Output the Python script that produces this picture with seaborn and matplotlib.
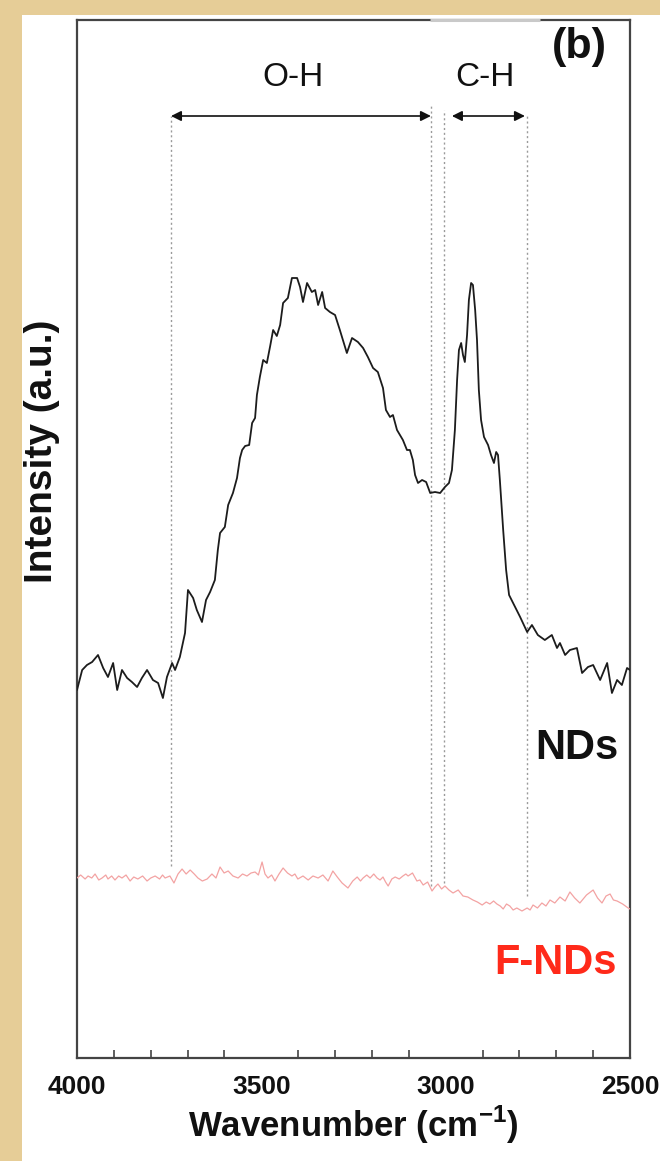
import matplotlib
matplotlib.use("Agg")
import matplotlib.pyplot as plt
from matplotlib import font_manager
from matplotlib.patches import Rectangle
from matplotlib.ticker import MultipleLocator
import pandas as pd
import seaborn as sns

# ---- spectra (wavenumber in cm^-1, intensity in arbitrary units) ----
nds_wavenumber = [
    4000, 3986, 3973, 3959, 3943, 3929, 3916, 3902, 3891, 3878, 3864, 3851, 3837,
    3824, 3810, 3794, 3780, 3767, 3756, 3742, 3734, 3721, 3707, 3699, 3685, 3675,
    3661, 3650, 3639, 3626, 3618, 3612, 3599, 3590, 3577, 3566, 3558, 3552, 3544,
    3533, 3525, 3517, 3512, 3504, 3495, 3485, 3476, 3468, 3458, 3449, 3441, 3428,
    3417, 3403, 3395, 3387, 3376, 3363, 3354, 3346, 3335, 3327, 3314, 3300, 3287,
    3268, 3254, 3238, 3224, 3211, 3197, 3184, 3170, 3162, 3151, 3143, 3132, 3116,
    3105, 3097, 3089, 3083, 3075, 3064, 3053, 3042, 3029, 3015, 3002, 2991, 2983,
    2975, 2969, 2964, 2958, 2953, 2948, 2942, 2937, 2931, 2926, 2920, 2915, 2910,
    2904, 2896, 2885, 2877, 2869, 2863, 2858, 2853, 2844, 2836, 2828, 2817, 2798,
    2779, 2766, 2750, 2731, 2712, 2698, 2690, 2676, 2663, 2644, 2630, 2614, 2600,
    2581, 2562, 2549, 2535, 2522, 2508, 2500,
]
nds_intensity = [
    3.68, 3.88, 3.93, 3.96, 4.03, 3.90, 3.81, 3.95, 3.68, 3.88, 3.80, 3.76, 3.71,
    3.80, 3.88, 3.78, 3.75, 3.60, 3.81, 3.95, 3.88, 4.01, 4.25, 4.68, 4.60, 4.48,
    4.36, 4.58, 4.66, 4.78, 5.08, 5.25, 5.31, 5.53, 5.65, 5.80, 6.00, 6.08, 6.12,
    6.13, 6.35, 6.40, 6.63, 6.81, 6.98, 6.95, 7.12, 7.28, 7.22, 7.33, 7.55, 7.60,
    7.80, 7.80, 7.71, 7.56, 7.75, 7.66, 7.68, 7.53, 7.66, 7.50, 7.46, 7.43, 7.28,
    7.05, 7.20, 7.16, 7.10, 7.01, 6.90, 6.86, 6.70, 6.48, 6.41, 6.43, 6.28, 6.18,
    6.08, 6.08, 5.98, 5.83, 5.75, 5.78, 5.76, 5.65, 5.66, 5.65, 5.71, 5.75, 5.88,
    6.28, 6.78, 7.08, 7.15, 7.03, 6.96, 7.23, 7.58, 7.75, 7.73, 7.48, 7.18, 6.68,
    6.38, 6.21, 6.13, 6.03, 5.95, 6.06, 6.03, 5.78, 5.28, 4.88, 4.63, 4.55, 4.41,
    4.26, 4.33, 4.23, 4.18, 4.23, 4.10, 4.15, 4.03, 4.08, 4.10, 3.85, 3.91, 3.93,
    3.78, 3.95, 3.65, 3.78, 3.73, 3.90, 3.88,
]

fnds_wavenumber = [
    4000, 3990, 3978, 3970, 3960, 3951, 3941, 3932, 3922, 3916, 3906, 3897, 3887,
    3878, 3867, 3856, 3846, 3835, 3822, 3810, 3800, 3788, 3776, 3768, 3761, 3748,
    3737, 3726, 3715, 3704, 3693, 3682, 3672, 3660, 3647, 3634, 3623, 3612, 3601,
    3590, 3577, 3563, 3551, 3539, 3528, 3517, 3508, 3498, 3490, 3482, 3472, 3463,
    3452, 3441, 3429, 3417, 3409, 3401, 3387, 3373, 3360, 3346, 3333, 3319, 3306,
    3294, 3281, 3265, 3252, 3240, 3231, 3224, 3214, 3205, 3195, 3186, 3178, 3170,
    3163, 3156, 3146, 3137, 3126, 3116, 3108, 3102, 3090, 3078, 3070, 3061, 3049,
    3037, 3029, 3021, 3011, 3002, 2991, 2980, 2966, 2953, 2940, 2926, 2914, 2901,
    2890, 2880, 2870, 2861, 2852, 2844, 2835, 2826, 2817, 2807, 2793, 2779, 2771,
    2763, 2751, 2739, 2728, 2717, 2704, 2690, 2676, 2663, 2650, 2636, 2618, 2600,
    2588, 2576, 2565, 2554, 2545, 2535, 2520, 2505, 2500,
]
fnds_intensity = [
    1.80, 1.83, 1.79, 1.82, 1.80, 1.84, 1.78, 1.80, 1.83, 1.79, 1.82, 1.78, 1.82,
    1.80, 1.83, 1.77, 1.81, 1.79, 1.82, 1.77, 1.80, 1.82, 1.79, 1.83, 1.80, 1.82,
    1.75, 1.84, 1.89, 1.84, 1.88, 1.84, 1.80, 1.77, 1.79, 1.84, 1.80, 1.91, 1.85,
    1.87, 1.82, 1.80, 1.84, 1.82, 1.85, 1.86, 1.83, 1.96, 1.84, 1.80, 1.83, 1.77,
    1.84, 1.90, 1.85, 1.82, 1.84, 1.79, 1.82, 1.78, 1.82, 1.80, 1.83, 1.77, 1.87,
    1.81, 1.75, 1.70, 1.77, 1.81, 1.77, 1.80, 1.83, 1.80, 1.84, 1.80, 1.78, 1.81,
    1.76, 1.72, 1.79, 1.81, 1.79, 1.82, 1.84, 1.82, 1.85, 1.77, 1.78, 1.73, 1.76,
    1.67, 1.71, 1.74, 1.69, 1.72, 1.68, 1.65, 1.68, 1.62, 1.61, 1.58, 1.56, 1.53,
    1.56, 1.54, 1.57, 1.54, 1.52, 1.49, 1.54, 1.52, 1.48, 1.50, 1.47, 1.50, 1.48,
    1.53, 1.50, 1.55, 1.52, 1.58, 1.55, 1.61, 1.57, 1.66, 1.60, 1.55, 1.63, 1.68,
    1.60, 1.55, 1.62, 1.64, 1.58, 1.57, 1.54, 1.50, 1.49,
]

# band limits marked by dotted guides: (position, lower end, upper end)
guide_positions = [3745, 3040, 3005, 2780]
guide_bottoms = [1.92, 1.72, 1.75, 1.62]
guide_tops = [9.42, 9.53, 9.48, 9.42]

band_labels = ["O-H", "C-H"]
band_starts = [3745, 2983]
band_ends = [3040, 2785]
band_label_x = [3414, 2893]

xticks_major = [4000, 3500, 3000, 2500]

# ---- style ----
sns.set_theme(style="white")
names = {f.name for f in font_manager.fontManager.ttflist}
if "Liberation Sans Narrow" in names:
    family, k = "Liberation Sans Narrow", 1.18
else:
    family, k = "Liberation Sans", 1.0
plt.rcParams["font.family"] = [family, "DejaVu Sans"]
plt.rcParams["mathtext.fontset"] = "custom"
plt.rcParams["mathtext.rm"] = family
plt.rcParams["mathtext.bf"] = f"{family}:bold"

fig = plt.figure(figsize=(6.6, 11.61), dpi=100, facecolor="white")

# parchment strips framing the panel
fig.patches.append(Rectangle((0, 0), 22 / 660, 1, transform=fig.transFigure,
                             facecolor="#e6cd97", edgecolor="none", zorder=0))
fig.patches.append(Rectangle((0, 1 - 15 / 1161), 1, 15 / 1161, transform=fig.transFigure,
                             facecolor="#e6cd97", edgecolor="none", zorder=0))

ax = fig.add_axes([77 / 660, (1161 - 1058) / 1161, 553 / 660, 1038 / 1161])
ax.set_facecolor("white")

df_nds = pd.DataFrame({"wavenumber": nds_wavenumber, "intensity": nds_intensity})
df_fnds = pd.DataFrame({"wavenumber": fnds_wavenumber, "intensity": fnds_intensity})

sns.lineplot(data=df_fnds, x="wavenumber", y="intensity", ax=ax,
             color="#f3a3a3", lw=0.9, estimator=None, zorder=3)
sns.lineplot(data=df_nds, x="wavenumber", y="intensity", ax=ax,
             color="#1c1c1c", lw=1.3, estimator=None, zorder=4)

# dotted band guides
for xg, y0, y1 in zip(guide_positions, guide_bottoms, guide_tops):
    ax.plot([xg, xg], [y0, y1], ls=(0, (1.5, 2.0)), color="#9a9a9a", lw=1.0, zorder=2)

# double-headed band arrows with labels
arrow_y = 9.42
for lab, xs, xe, xl in zip(band_labels, band_starts, band_ends, band_label_x):
    ax.annotate("", xy=(xe, arrow_y), xytext=(xs, arrow_y),
                arrowprops=dict(arrowstyle="<|-|>", color="#111111", lw=1.2,
                                mutation_scale=15, shrinkA=0, shrinkB=0))
    ax.text(xl, 9.81, lab, ha="center", va="center", fontsize=24 * k, color="#111111")

ax.text(2638, 10.11, "(b)", ha="center", va="center", fontsize=31 * k,
        fontweight="bold", color="#111111")
ax.text(2644, 3.10, "NDs", ha="center", va="center", fontsize=30 * k,
        fontweight="bold", color="#111111")
ax.text(2701, 0.95, "F-NDs", ha="center", va="center", fontsize=30 * k,
        fontweight="bold", color="#ff2a1a")

ax.set_xlim(4000, 2500)
ax.set_ylim(0, 10.38)
ax.set_xticks(xticks_major)
ax.xaxis.set_minor_locator(MultipleLocator(100))
ax.set_yticks([])
ax.tick_params(axis="x", which="major", direction="in", length=11, width=1.3,
               colors="#333333", labelcolor="#111111", labelsize=19 * k, pad=12)
ax.tick_params(axis="x", which="minor", direction="in", length=6, width=1.1,
               colors="#333333", bottom=True)
ax.tick_params(axis="x", which="both", top=False)
for lbl in ax.get_xticklabels():
    lbl.set_fontweight("bold")

for sp in ax.spines.values():
    sp.set_visible(True)
    sp.set_color("#444444")
    sp.set_linewidth(1.6)

# lighter stretch along the upper frame
ax.plot([(430 - 77) / 553, (540 - 77) / 553], [1, 1], transform=ax.transAxes,
        color="#c9c9c9", lw=2.2, clip_on=False, zorder=6, solid_capstyle="butt")

ax.set_xlabel(r"Wavenumber (cm$^{\mathbf{-1}}$)", fontsize=25 * k,
              fontweight="bold", color="#111111", labelpad=4)
ax.set_ylabel("Intensity (a.u.)", fontsize=28 * k, fontweight="bold",
              color="#111111")
ax.yaxis.set_label_coords(-0.030, 0.584)

fig.savefig("out.png", dpi=100, facecolor=fig.get_facecolor())
